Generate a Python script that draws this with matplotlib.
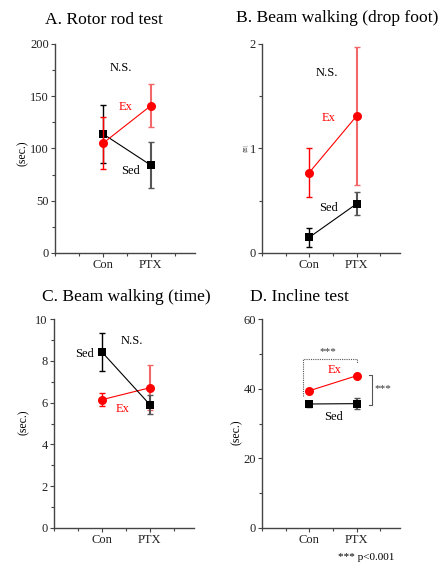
import matplotlib
matplotlib.use("Agg")
import matplotlib.pyplot as plt
from matplotlib.ticker import MultipleLocator

plt.rcParams['font.family'] = ['Liberation Serif', 'DejaVu Serif']

groups = ["Con", "PTX"]

# Panel A: Rotor rod test
a_ex = [105, 141]
a_ex_err = [25, 20.5]
a_sed = [114, 84]
a_sed_err = [28, 22]

# Panel B: Beam walking (drop foot)
b_ex = [0.77, 1.31]
b_ex_err = [0.23, 0.66]
b_sed = [0.15, 0.47]
b_sed_err = [0.09, 0.11]

# Panel C: Beam walking (time)
c_ex = [6.14, 6.71]
c_ex_err = [0.32, 1.08]
c_sed = [8.42, 5.90]
c_sed_err = [0.9, 0.46]

# Panel D: Incline test
d_ex = [39.4, 43.7]
d_ex_err = [0.6, 0.6]
d_sed = [35.6, 35.7]
d_sed_err = [0.8, 1.5]

W, H = 443, 567
fig = plt.figure(figsize=(W / 100, H / 100), dpi=100)

def fx(px):
    return px / W

def fy(py):
    return 1 - py / H

RED = '#ff0000'
RED_L = '#f26868'
BLK = '#000000'
BLK_L = '#555555'
SPINE = '#444444'
FS = 9
TFS = 12.6

def make_ax(left, right, top, bottom, ymax, major, minor):
    ax = fig.add_axes([fx(left), fy(bottom), fx(right) - fx(left), fy(top) - fy(bottom)])
    ax.set_xlim(0, 2.92)
    ax.set_ylim(0, ymax)
    for s in ['top', 'right']:
        ax.spines[s].set_visible(False)
    for s in ['left', 'bottom']:
        ax.spines[s].set_color(SPINE)
        ax.spines[s].set_linewidth(1.0)
    ax.set_xticks([1, 2])
    ax.set_xticklabels(groups)
    ax.xaxis.set_minor_locator(MultipleLocator(0.5))
    ax.yaxis.set_major_locator(MultipleLocator(major))
    ax.yaxis.set_minor_locator(MultipleLocator(minor))
    ax.tick_params(which='major', direction='out', length=3, width=0.8, colors=SPINE,
                   labelsize=FS, labelcolor='#222222', pad=1.5)
    ax.tick_params(which='minor', direction='out', length=2, width=0.8, colors=SPINE)
    ax.patch.set_alpha(0)
    return ax

def series(ax, vals, errs, color, color_l, marker, ms, z):
    xs = [1, 2]
    ax.plot(xs, vals, '-', color=color, lw=0.8, zorder=z)
    for i, (x, v, e) in enumerate(zip(xs, vals, errs)):
        ec = color if i == 0 else color_l
        lw = 1.0 if i == 0 else 1.5
        ax.errorbar([x], [v], yerr=[e], fmt='none', ecolor=ec, elinewidth=lw,
                    capsize=2, capthick=1.0, zorder=z)
    ax.plot(xs, vals, linestyle='none', marker=marker, color=color, ms=ms,
            markeredgewidth=0, zorder=z + 1)

# A
axA = make_ax(55, 195, 44, 253, 200, 50, 25)
series(axA, a_sed, a_sed_err, BLK, BLK_L, 's', 6.0, 3)
series(axA, a_ex, a_ex_err, RED, RED_L, 'o', 6.5, 5)
axA.text(1.37, 177, 'N.S.', fontsize=FS, ha='center', va='center')
axA.text(1.47, 140, 'Ex', fontsize=FS, color=RED, ha='center', va='center')
axA.text(1.58, 78, 'Sed', fontsize=FS, ha='center', va='center')

# B
axB = make_ax(262, 400, 44, 253, 2, 1, 0.5)
series(axB, b_sed, b_sed_err, BLK, BLK_L, 's', 6.0, 3)
series(axB, b_ex, b_ex_err, RED, RED_L, 'o', 6.5, 5)
axB.text(1.38, 1.72, 'N.S.', fontsize=FS, ha='center', va='center')
axB.text(1.41, 1.29, 'Ex', fontsize=FS, color=RED, ha='center', va='center')
axB.text(1.41, 0.43, 'Sed', fontsize=FS, ha='center', va='center')

# C
axC = make_ax(54, 194, 319, 528, 10, 2, 1)
series(axC, c_sed, c_sed_err, BLK, BLK_L, 's', 6.0, 5)
series(axC, c_ex, c_ex_err, RED, RED_L, 'o', 6.5, 3)
axC.text(1.62, 8.96, 'N.S.', fontsize=FS, ha='center', va='center')
axC.text(0.64, 8.34, 'Sed', fontsize=FS, ha='center', va='center')
axC.text(1.43, 5.69, 'Ex', fontsize=FS, color=RED, ha='center', va='center')

# D
axD = make_ax(262, 400, 319, 528, 60, 20, 10)
series(axD, d_sed, d_sed_err, BLK, BLK_L, 's', 6.0, 3)
series(axD, d_ex, d_ex_err, RED, RED_L, 'o', 6.5, 5)
axD.text(1.53, 45.5, 'Ex', fontsize=FS, color=RED, ha='center', va='center')
axD.text(1.51, 31.9, 'Sed', fontsize=FS, ha='center', va='center')
br = dict(color='#555555', lw=0.8, linestyle=(0, (1, 1)))
axD.plot([0.86, 0.86, 2.0, 2.0], [37.8, 48.5, 48.5, 47.5], **br)
axD.text(1.39, 50.7, '***', fontsize=8, ha='center', va='center', color='#333333')
axD.plot([2.26, 2.33, 2.33, 2.26], [44.0, 44.0, 35.4, 35.4], color='#555555', lw=0.8)
axD.text(2.56, 39.9, '***', fontsize=8, ha='center', va='center', color='#333333')

# Y labels
fig.text(fx(23), fy(153), '(sec.)', rotation=90, fontsize=8.5, ha='center', va='center')
fig.text(fx(246), fy(148), '(回)', rotation=90, fontsize=3.5, ha='center', va='center',
         color='#666666', family=['Noto Sans CJK JP', 'DejaVu Sans'])
fig.text(fx(24), fy(422), '(sec.)', rotation=90, fontsize=8.5, ha='center', va='center')
fig.text(fx(237), fy(432), '(sec.)', rotation=90, fontsize=8.5, ha='center', va='center')

# Titles
fig.text(fx(45), fy(20), 'A. Rotor rod test', fontsize=TFS, ha='left', va='center')
fig.text(fx(236), fy(18), 'B. Beam walking (drop foot)', fontsize=TFS, ha='left', va='center')
fig.text(fx(42), fy(297), 'C. Beam walking (time)', fontsize=TFS, ha='left', va='center')
fig.text(fx(250), fy(297), 'D. Incline test', fontsize=TFS, ha='left', va='center')

fig.text(fx(366), fy(557), '*** p<0.001', fontsize=8, ha='center', va='center')

fig.savefig('out.png', dpi=100)
